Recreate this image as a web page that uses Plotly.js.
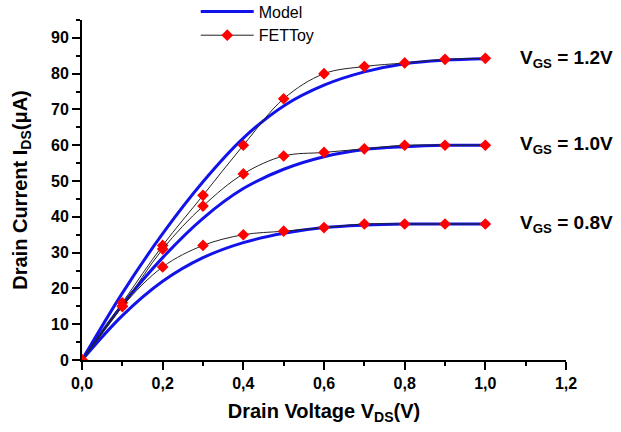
<!DOCTYPE html>
<html>
<head>
<meta charset="utf-8">
<script src="https://cdn.plot.ly/plotly-3.0.1.min.js"></script>
<style>html,body{margin:0;padding:0;background:#fff;}#chart{width:621px;height:432px;}</style>
</head>
<body>
<div id="chart"></div>
<script>
// Drain voltage V_DS (V)
const vds = [0, 0.1, 0.2, 0.3, 0.4, 0.5, 0.6, 0.7, 0.8, 0.9, 1.0];

// Model curves (µA)
const model12 = [0, 18.7, 35.3, 49.8, 62, 71, 76.8, 80.5, 82.8, 83.8, 84.2];
const model10 = [0, 15.4, 28.6, 39.6, 47.9, 53.3, 56.8, 58.8, 59.6, 60, 60];
const model08 = [0, 12.4, 22, 28.6, 32.8, 35.4, 37, 37.7, 38, 38, 38];

// FETToy points (µA)
const fet12 = [0, 16, 32, 46, 60, 73, 80, 82, 83, 84, 84.3];
const fet10 = [0, 15, 31, 43, 52, 57, 58, 59, 60, 60, 60];
const fet08 = [0, 15, 26, 32, 35, 36, 37, 38, 38, 38, 38];

const vgsLabels = ["V<sub>GS</sub> = 1.2V", "V<sub>GS</sub> = 1.0V", "V<sub>GS</sub> = 0.8V"];
const vgsLevels = [84, 60, 38];

const FONT = "Liberation Sans, Arial, sans-serif";
const BLUE = "rgb(18,18,235)";

function modelTrace(y, show) {
  return {x: vds, y: y, mode: "lines", name: "Model", legendgroup: "model",
          showlegend: show, line: {color: BLUE, width: 3, shape: "spline"}};
}
function fetTrace(y, show) {
  return {x: vds, y: y, mode: "lines+markers", name: "FETToy", legendgroup: "fet",
          showlegend: show,
          line: {color: "#222", width: 1, shape: "spline"},
          marker: {symbol: "diamond", size: 9, color: "#ff0000"}};
}

const data = [
  modelTrace(model12, true), modelTrace(model10, false), modelTrace(model08, false),
  fetTrace(fet12, true), fetTrace(fet10, false), fetTrace(fet08, false)
];

const axisCommon = {
  showgrid: false, zeroline: false, showline: true, linecolor: "#000", linewidth: 2,
  ticks: "outside", ticklen: 8, tickwidth: 2, tickcolor: "#000",
  tickfont: {family: FONT, size: 16, color: "#000", weight: "bold"}
};

const layout = {
  width: 621, height: 432,
  margin: {l: 82, r: 55, t: 20, b: 72, autoexpand: false},
  paper_bgcolor: "#fff", plot_bgcolor: "#fff",
  separators: ",.",
  font: {family: FONT, color: "#000"},
  xaxis: Object.assign({}, axisCommon, {
    range: [0, 1.2], dtick: 0.2, tickformat: ".1f",
    minor: {dtick: 0.1, ticklen: 4, tickwidth: 2, tickcolor: "#000", ticks: "outside"},
    title: {text: "<b>Drain Voltage V<sub>DS</sub>(V)</b>", font: {family: FONT, size: 20, color: "#000"}, standoff: 13}
  }),
  yaxis: Object.assign({}, axisCommon, {
    range: [0, 95], dtick: 10,
    minor: {dtick: 5, ticklen: 4, tickwidth: 2, tickcolor: "#000", ticks: "outside"},
    title: {text: "<b>Drain Current I<sub>DS</sub>(μA)</b>", font: {family: FONT, size: 20, color: "#000"}, standoff: 18}
  }),
  showlegend: true,
  legend: {x: 0.235, y: 1.075, xanchor: "left", yanchor: "top", bgcolor: "rgba(0,0,0,0)",
           font: {family: FONT, size: 16, color: "#000"}, tracegroupgap: 0, itemwidth: 53},
  annotations: vgsLabels.map((t, i) => ({
    x: 1.08, y: vgsLevels[i], xref: "x", yref: "y", xanchor: "left", yanchor: "middle",
    text: "<b>" + t + "</b>", showarrow: false,
    font: {family: FONT, size: 19, color: "#000"}
  }))
};

Plotly.newPlot("chart", data, layout, {displayModeBar: false, staticPlot: true});
</script>
</body>
</html>
